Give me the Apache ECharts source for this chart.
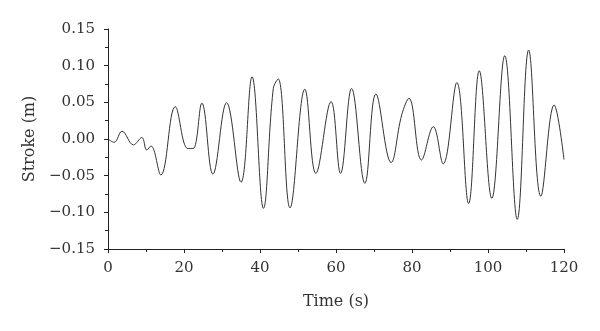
<!DOCTYPE html>
<html>
<head>
<meta charset="utf-8">
<script src="https://cdn.jsdelivr.net/npm/echarts@6/dist/echarts.min.js"></script>
<style>
  html, body { margin: 0; padding: 0; background: #fff; }
  #chart { width: 600px; height: 331px; }
</style>
</head>
<body>
<div id="chart"></div>
<script>
// time (s) of each turning point
const time = [0, 1.6, 3.7, 6.7, 8.9, 10.2, 11.3, 13.9, 17.7, 21.0, 22.4, 24.7, 27.6,
  31.2, 35.0, 37.9, 40.9, 43.5, 44.8, 47.9, 51.8, 54.7, 58.7, 61.2, 64.1, 67.6,
  70.5, 74.5, 77.3, 79.2, 82.5, 85.6, 88.2, 91.8, 94.9, 97.7, 101.0, 104.4, 107.7,
  110.7, 113.9, 117.4, 120];
// stroke (m)
const stroke = [0, -0.0045, 0.0105, -0.008, 0.002, -0.015, -0.0095, -0.049, 0.044,
  -0.013, -0.013, 0.049, -0.048, 0.0495, -0.059, 0.085, -0.0945, 0.069, 0.082,
  -0.094, 0.068, -0.047, 0.051, -0.047, 0.069, -0.0605, 0.0614, -0.032, 0.033,
  0.0555, -0.0286, 0.0168, -0.034, 0.077, -0.088, 0.093, -0.081, 0.1136, -0.1096,
  0.1214, -0.078, 0.0464, -0.028];

const points = time.map((t, i) => [t, stroke[i]]);

const font = "'DejaVu Serif', serif";
const txt = "#333";

const chart = echarts.init(document.getElementById("chart"), null, { renderer: "canvas" });

// y labels with a real minus sign
function fmtY(v) {
  if (Math.abs(v) < 1e-9) return "0.00";
  return (v < 0 ? "\u2212" : "") + Math.abs(v).toFixed(2);
}

const axisLine = { show: true, onZero: false, lineStyle: { color: "#222", width: 1 } };

chart.setOption({
  animation: false,
  grid: { left: 108, right: 36, top: 29, bottom: 82 },
  xAxis: [
    {
      type: "value", min: 0, max: 120, interval: 20,
      name: "Time (s)", nameLocation: "middle", nameGap: 45,
      nameTextStyle: { fontFamily: font, fontSize: 16, color: txt },
      axisLine: axisLine,
      axisTick: { show: true, length: 4, lineStyle: { color: "#222" } },
      axisLabel: { fontFamily: font, fontSize: 15, color: txt, margin: 12 },
      splitLine: { show: false },
    },
    {
      // half-step ticks, outside like the main ones
      type: "value", min: 0, max: 120, interval: 10, position: "bottom",
      axisLine: { show: false, onZero: false },
      axisTick: { show: true, length: 3, lineStyle: { color: "#222" } },
      axisLabel: { show: false },
      splitLine: { show: false },
    },
  ],
  yAxis: [
    {
      type: "value", min: -0.15, max: 0.15, interval: 0.05,
      name: "Stroke (m)", nameLocation: "middle", nameGap: 69, nameRotate: 90,
      nameTextStyle: { fontFamily: font, fontSize: 16, color: txt },
      axisLine: axisLine,
      axisTick: { show: true, length: 4, lineStyle: { color: "#222" } },
      axisLabel: { fontFamily: font, fontSize: 15, color: txt, margin: 13, formatter: fmtY },
      splitLine: { show: false },
    },
    {
      type: "value", min: -0.15, max: 0.15, interval: 0.025, position: "left",
      axisLine: { show: false, onZero: false },
      axisTick: { show: true, length: 3, lineStyle: { color: "#222" } },
      axisLabel: { show: false },
      splitLine: { show: false },
    },
  ],
  series: [
    {
      type: "line",
      data: points,
      smooth: 0.4,
      showSymbol: false,
      lineStyle: { color: "#333", width: 1 },
    },
  ],
});
</script>
</body>
</html>
